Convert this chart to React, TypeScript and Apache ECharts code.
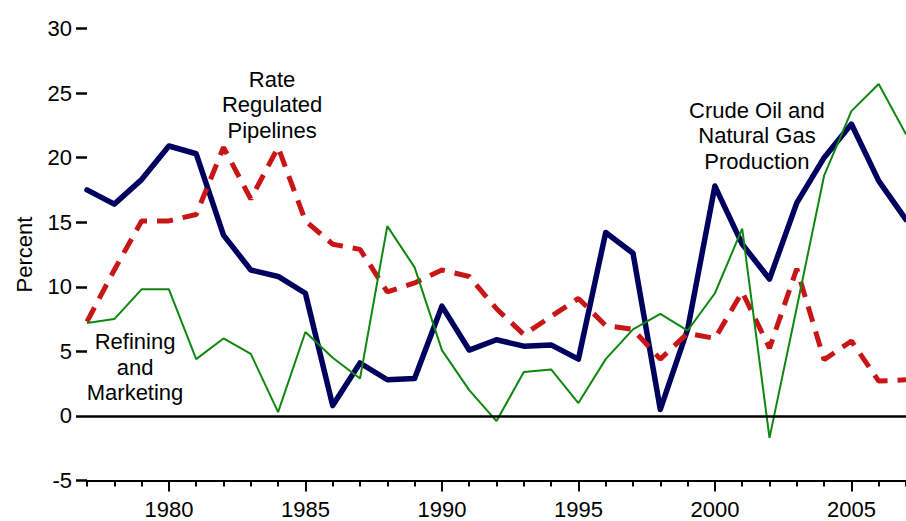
import React, { useEffect, useRef } from "react";
import * as echarts from "echarts";

const years = [
  1977, 1978, 1979, 1980, 1981, 1982, 1983, 1984, 1985, 1986, 1987, 1988, 1989, 1990, 1991, 1992,
  1993, 1994, 1995, 1996, 1997, 1998, 1999, 2000, 2001, 2002, 2003, 2004, 2005, 2006, 2007,
];

const crudeOilGas = [
  17.5, 16.4, 18.3, 20.9, 20.3, 14.0, 11.3, 10.8, 9.5, 0.8, 4.1, 2.8, 2.9, 8.5, 5.1, 5.9,
  5.4, 5.5, 4.4, 14.2, 12.6, 0.5, 6.7, 17.8, 13.3, 10.6, 16.5, 20.0, 22.6, 18.2, 15.2,
];

const ratePipelines = [
  7.3, 11.3, 15.1, 15.1, 15.6, 20.8, 16.8, 20.8, 15.1, 13.3, 12.9, 9.6, 10.3, 11.3, 10.8, 8.3,
  6.3, 7.7, 9.1, 7.0, 6.7, 4.4, 6.4, 6.0, 9.6, 5.25, 11.4, 4.35, 5.8, 2.7, 2.8,
];

const refiningMarketing = [
  7.2, 7.5, 9.8, 9.8, 4.4, 6.0, 4.8, 0.3, 6.5, 4.5, 2.9, 14.7, 11.5, 5.1, 2.0, -0.4,
  3.4, 3.6, 1.0, 4.4, 6.7, 7.9, 6.6, 9.5, 14.5, -1.7, 8.4, 18.6, 23.6, 25.7, 21.8,
];

const majorYears = [1980, 1985, 1990, 1995, 2000, 2005];

const annotations = [
  { text: "Rate\nRegulated\nPipelines", year: 1983.78, value: 27.05 },
  { text: "Crude Oil and\nNatural Gas\nProduction", year: 2001.54, value: 24.65 },
  { text: "Refining\nand\nMarketing", year: 1978.76, value: 6.73 },
];

const FONT = '"Liberation Sans", Arial, Helvetica, sans-serif';

export default function App() {
  const ref = useRef<HTMLDivElement>(null);

  useEffect(() => {
    if (!ref.current) return;
    const chart = echarts.init(ref.current, null, { renderer: "svg" });
    const pair = (arr: number[]) => years.map((y, i) => [y, arr[i]]);

    chart.setOption({
      animation: false,
      backgroundColor: "#ffffff",
      grid: { left: 87, right: 0, top: 28.5, bottom: 40.5, containLabel: false },
      xAxis: [
        {
          type: "value",
          min: 1977,
          max: 2007,
          interval: 1,
          position: "bottom",
          axisLine: { show: true, onZero: false, lineStyle: { color: "#000", width: 2 } },
          axisTick: { show: true, length: 6, lineStyle: { color: "#000", width: 2 } },
          axisLabel: { show: false },
          splitLine: { show: false },
        },
        {
          type: "value",
          min: 1977,
          max: 2007,
          position: "bottom",
          axisLine: { show: false, onZero: false },
          axisTick: {
            show: true,
            length: 11,
            customValues: majorYears,
            lineStyle: { color: "#000", width: 2 },
          },
          axisLabel: {
            show: true,
            customValues: majorYears,
            formatter: (v: number) => String(v),
            fontSize: 22,
            fontFamily: FONT,
            color: "#000",
            margin: 18,
          },
          splitLine: { show: false },
        },
      ],
      yAxis: {
        type: "value",
        min: -5,
        max: 30,
        interval: 5,
        name: "Percent",
        nameLocation: "middle",
        nameGap: 52,
        nameTextStyle: { fontSize: 22, fontFamily: FONT, color: "#000" },
        axisLine: { show: false },
        axisTick: { show: true, length: 11, lineStyle: { color: "#000", width: 2.5 } },
        axisLabel: { fontSize: 22, fontFamily: FONT, color: "#000", margin: 15 },
        splitLine: { show: false },
      },
      series: [
        {
          name: "Crude Oil and Natural Gas Production",
          type: "line",
          xAxisIndex: 0,
          data: pair(crudeOilGas),
          showSymbol: false,
          symbol: "none",
          lineStyle: { color: "#00005f", width: 5.5, join: "round", cap: "round" },
          markLine: {
            silent: true,
            symbol: "none",
            label: { show: false },
            lineStyle: { color: "#000", width: 2.5, type: "solid" },
            data: [{ yAxis: 0 }],
          },
        },
        {
          name: "Rate Regulated Pipelines",
          type: "line",
          xAxisIndex: 0,
          data: pair(ratePipelines),
          showSymbol: false,
          symbol: "none",
          lineStyle: { color: "#c81616", width: 5, type: [16, 10], cap: "butt" },
        },
        {
          name: "Refining and Marketing",
          type: "line",
          xAxisIndex: 0,
          data: pair(refiningMarketing),
          showSymbol: false,
          symbol: "none",
          lineStyle: { color: "#0f870f", width: 2 },
        },
      ],
    });

    const graphics = annotations.map((a) => {
      const p = chart.convertToPixel({ gridIndex: 0 }, [a.year, a.value]) as number[];
      return {
        type: "text",
        x: p[0],
        y: p[1],
        silent: true,
        z: 10,
        style: {
          text: a.text,
          fill: "#000",
          fontSize: 22,
          fontFamily: FONT,
          align: "center",
          verticalAlign: "top",
          lineHeight: 25.5,
        },
      };
    });
    chart.setOption({ graphic: graphics });

    return () => chart.dispose();
  }, []);

  return (
    <div
      ref={ref}
      style={{ position: "absolute", left: 0, top: 0, width: 906, height: 521 }}
    />
  );
}
